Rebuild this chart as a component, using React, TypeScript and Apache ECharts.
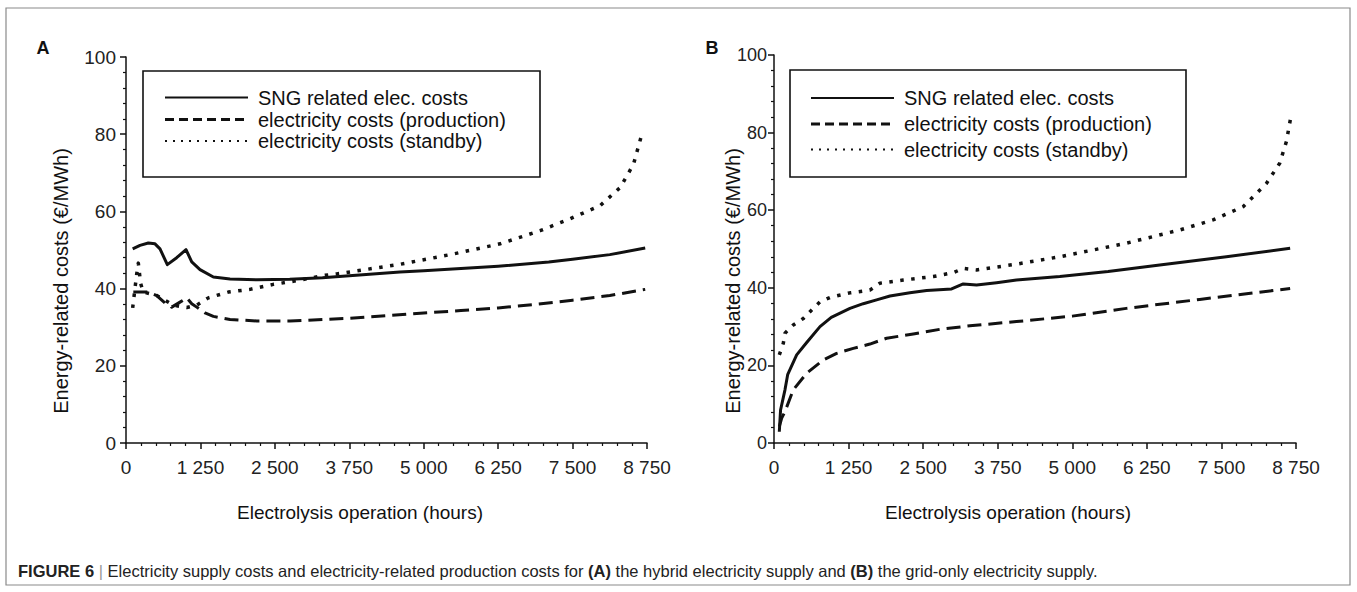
import React, { useEffect, useRef } from "react";
import * as echarts from "echarts";

// ---------- data ----------
const X_TICKS = [0, 1250, 2500, 3750, 5000, 6250, 7500, 8750];
const Y_TICKS = [0, 20, 40, 60, 80, 100];

const SERIES_NAMES = [
  "SNG related elec. costs",
  "electricity costs (production)",
  "electricity costs (standby)",
];

// Panel A – hybrid electricity supply
const A_SNG_X = [112, 235, 375, 487, 571, 694, 851, 1008, 1104, 1243, 1467, 1747, 2200, 2750, 3300, 3750, 4600, 5000, 5625, 6250, 7100, 7500, 8125, 8720];
const A_SNG_Y = [50.3, 51.2, 51.8, 51.6, 50.3, 46.2, 48.0, 50.1, 46.9, 44.9, 43.0, 42.5, 42.3, 42.4, 42.8, 43.3, 44.3, 44.6, 45.2, 45.8, 46.9, 47.6, 48.8, 50.5];

const A_PROD_X = [123, 375, 516, 655, 768, 907, 1020, 1104, 1188, 1327, 1467, 1747, 2196, 2755, 3315, 3750, 4375, 5000, 5625, 6250, 6875, 7500, 8125, 8720];
const A_PROD_Y = [39.1, 39.1, 38.2, 36.3, 35.2, 36.5, 37.6, 36.1, 35.2, 33.7, 32.8, 32.0, 31.6, 31.6, 32.0, 32.3, 33.0, 33.7, 34.3, 35.0, 35.9, 37.0, 38.2, 39.8];

const A_STBY_X = [112, 180, 207, 246, 291, 516, 795, 1020, 1188, 1383, 1719, 2083, 2475, 2895, 3315, 3539, 4603, 5443, 6284, 6955, 7460, 7963, 8300, 8523, 8663];
const A_STBY_Y = [35.0, 43.8, 46.6, 41.3, 39.1, 38.2, 35.7, 35.1, 35.7, 37.6, 39.1, 39.8, 41.1, 42.1, 43.4, 43.8, 46.3, 48.8, 51.6, 55.0, 58.1, 61.5, 66.2, 72.2, 80.0];

// Panel B – grid-only electricity supply
const B_SNG_X = [89, 110, 184, 229, 380, 548, 771, 960, 1273, 1496, 1720, 1944, 2278, 2559, 2977, 3172, 3396, 3731, 4065, 4791, 5600, 6466, 7583, 8652];
const B_SNG_Y = [2.9, 8.5, 13.7, 17.6, 22.7, 25.9, 30.0, 32.4, 34.7, 35.9, 36.9, 37.9, 38.7, 39.3, 39.7, 41.0, 40.7, 41.3, 42.0, 42.9, 44.2, 45.9, 48.0, 50.2];

const B_PROD_X = [89, 129, 184, 323, 548, 827, 1050, 1329, 1608, 1887, 2334, 2780, 3283, 4065, 5000, 5906, 7135, 8418, 8652];
const B_PROD_Y = [4.2, 6.4, 8.1, 13.7, 18.0, 21.4, 23.1, 24.4, 25.5, 27.0, 28.1, 29.3, 30.2, 31.3, 32.7, 34.7, 37.0, 39.4, 39.8];

const B_STBY_X = [89, 156, 184, 323, 492, 632, 771, 938, 1273, 1608, 1776, 2167, 2670, 3005, 3172, 3395, 4065, 4791, 5906, 6801, 7360, 7863, 8254, 8477, 8589, 8656];
const B_STBY_Y = [22.7, 25.7, 28.3, 30.4, 32.1, 34.3, 36.4, 37.5, 38.7, 39.4, 41.2, 42.0, 42.9, 43.9, 45.0, 44.6, 46.1, 48.0, 51.5, 54.9, 57.5, 60.9, 66.9, 72.1, 77.7, 83.4];

const X_TITLE = "Electrolysis operation (hours)";
const Y_TITLE = "Energy-related costs (€/MWh)";
const PANEL_LABELS = ["A", "B"];

// ---------- helpers ----------
const pairs = (xs: number[], ys: number[]) => xs.map((x, i) => [x, ys[i]]);
const fmtX = (v: number) =>
  v >= 1000 ? `${Math.floor(v / 1000)} ${String(v % 1000).padStart(3, "0")}` : String(v);

const FONT = "'Liberation Sans', Arial, Helvetica, sans-serif";
const INK = "#111";

const LINE_STYLES = [
  { width: 3, type: "solid" as any },
  { width: 3, type: [14, 7] as any },
  { width: 3.5, type: [3.5, 7.5] as any },
];
const LEGEND_STYLES = [
  { lineWidth: 2, lineDash: null as any },
  { lineWidth: 3, lineDash: [9, 5] },
  { lineWidth: 2, lineDash: [2, 6] },
];

export default function App() {
  const ref = useRef<HTMLDivElement>(null);

  useEffect(() => {
    if (!ref.current) return;
    const chart = echarts.init(ref.current, null, { renderer: "svg" });

    const grids = [
      { left: 126, top: 57, width: 521, height: 386 },
      { left: 774, top: 55, width: 522, height: 388 },
    ];

    const mkX = (gi: number) => ({
      type: "value",
      gridIndex: gi,
      min: X_TICKS[0],
      max: X_TICKS[X_TICKS.length - 1],
      interval: X_TICKS[1] - X_TICKS[0],
      axisLine: { show: true, lineStyle: { color: INK, width: 1.5 } },
      axisTick: { show: true, length: 6, lineStyle: { color: INK, width: 1.5 } },
      minorTick: { show: true, splitNumber: 5, length: 3, lineStyle: { color: INK, width: 1.2 } },
      splitLine: { show: false },
      axisLabel: { fontSize: 19, color: "#222", fontFamily: FONT, margin: 15, formatter: fmtX },
    });
    const mkY = (gi: number) => ({
      type: "value",
      gridIndex: gi,
      min: Y_TICKS[0],
      max: Y_TICKS[Y_TICKS.length - 1],
      interval: Y_TICKS[1] - Y_TICKS[0],
      axisLine: { show: true, lineStyle: { color: INK, width: 1.5 } },
      axisTick: { show: true, length: 6, lineStyle: { color: INK, width: 1.5 } },
      minorTick: { show: true, splitNumber: 5, length: 3, lineStyle: { color: INK, width: 1.2 } },
      splitLine: { show: false },
      axisLabel: { fontSize: gi === 0 ? 19 : 18, color: "#222", fontFamily: FONT, margin: gi === 0 ? 10 : 7 },
    });

    const panelData = [
      [pairs(A_SNG_X, A_SNG_Y), pairs(A_PROD_X, A_PROD_Y), pairs(A_STBY_X, A_STBY_Y)],
      [pairs(B_SNG_X, B_SNG_Y), pairs(B_PROD_X, B_PROD_Y), pairs(B_STBY_X, B_STBY_Y)],
    ];

    const series: any[] = [];
    panelData.forEach((sets, gi) => {
      sets.forEach((d, si) => {
        series.push({
          type: "line",
          name: SERIES_NAMES[si],
          xAxisIndex: gi,
          yAxisIndex: gi,
          data: d,
          symbol: "none",
          smooth: false,
          lineStyle: { color: INK, width: LINE_STYLES[si].width, type: LINE_STYLES[si].type, cap: "butt", join: "round" },
        });
      });
    });

    // legend boxes drawn as graphic
    const legendBoxes = [
      { x: 143, y: 71, w: 397, h: 106, rows: [97.5, 119.5, 141], lx: 165 },
      { x: 790, y: 70, w: 396, h: 107, rows: [98, 124, 149.5], lx: 811 },
    ];
    const graphic: any[] = [
      {
        type: "rect",
        shape: { x: 6, y: 8, width: 1344, height: 577 },
        style: { fill: "none", stroke: "#8a8a8a", lineWidth: 1.2 },
        silent: true,
      },
    ];
    legendBoxes.forEach((b) => {
      graphic.push({
        type: "rect",
        shape: { x: b.x, y: b.y, width: b.w, height: b.h },
        style: { fill: "none", stroke: INK, lineWidth: 1.6 },
        silent: true,
      });
      b.rows.forEach((ry, i) => {
        graphic.push({
          type: "line",
          shape: { x1: b.lx, y1: ry, x2: b.lx + 83, y2: ry },
          style: { stroke: INK, lineWidth: LEGEND_STYLES[i].lineWidth, lineDash: LEGEND_STYLES[i].lineDash },
          silent: true,
        });
        graphic.push({
          type: "text",
          x: b.lx + 93,
          y: ry,
          style: { text: SERIES_NAMES[i], fontSize: 20, fontFamily: FONT, fill: "#111", verticalAlign: "middle", align: "left" },
          silent: true,
        });
      });
    });
    // axis titles
    [{ xc: 360, yx: 61 }, { xc: 1008, yx: 733 }].forEach((p) => {
      graphic.push({
        type: "text",
        x: p.xc,
        y: 512,
        style: { text: X_TITLE, fontSize: 19, fontFamily: FONT, fill: "#111", align: "center", verticalAlign: "middle" },
        silent: true,
      });
      graphic.push({
        type: "text",
        x: p.yx,
        y: 281,
        rotation: Math.PI / 2,
        style: { text: Y_TITLE, fontSize: 20, fontFamily: FONT, fill: "#111", align: "center", verticalAlign: "middle" },
        silent: true,
      });
    });
    // panel letters
    [{ t: PANEL_LABELS[0], x: 43 }, { t: PANEL_LABELS[1], x: 712 }].forEach((p) => {
      graphic.push({
        type: "text",
        x: p.x,
        y: 48,
        style: { text: p.t, fontSize: 18, fontWeight: "bold", fontFamily: FONT, fill: "#111", align: "center", verticalAlign: "middle" },
        silent: true,
      });
    });
    // caption
    const CAP = 16.5;
    graphic.push({
      type: "text",
      x: 18,
      y: 571,
      style: {
        text:
          "{b|FIGURE 6} {s|| }{n|Electricity supply costs and electricity-related production costs for }{b|(A)}{n| the hybrid electricity supply and }{b|(B)}{n| the grid-only electricity supply.}",
        fontSize: CAP,
        fontFamily: FONT,
        fill: "#222",
        verticalAlign: "middle",
        align: "left",
        rich: {
          b: { fontSize: CAP, fontWeight: "bold", fontFamily: FONT, fill: "#222" },
          n: { fontSize: CAP, fontFamily: FONT, fill: "#222" },
          s: { fontSize: CAP, fontFamily: FONT, fill: "#999" },
        },
      },
      silent: true,
    });

    chart.setOption({
      animation: false,
      backgroundColor: "#fff",
      grid: grids,
      xAxis: [mkX(0), mkX(1)],
      yAxis: [mkY(0), mkY(1)],
      series,
      graphic,
    });

    return () => chart.dispose();
  }, []);

  return (
    <div
      ref={ref}
      style={{ position: "absolute", left: 0, top: 0, width: 1357, height: 592, background: "#fff" }}
    />
  );
}
